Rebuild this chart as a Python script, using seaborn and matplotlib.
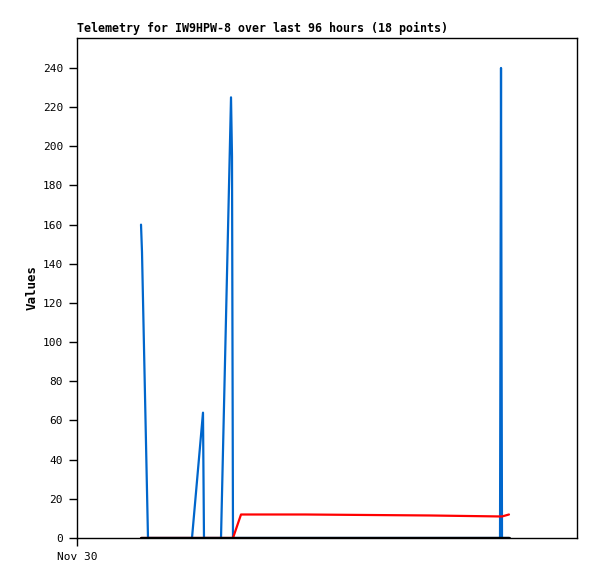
import pandas as pd
import matplotlib
matplotlib.use('Agg')
import matplotlib.pyplot as plt
import seaborn as sns

# hours since Nov 30 00:00 (18 telemetry points)
hours = [12.29, 12.48, 13.63, 22.08, 24.19, 24.38, 27.65, 29.57, 29.76,
         29.95, 31.49, 43.78, 67.78, 81.22, 81.41, 81.50, 81.60, 82.94]
ch_blue = [160, 146, 0, 0, 64, 0, 0, 225, 195, 0, 0, 0, 0, 0, 240, 121, 0, 0]
ch_red = [0, 0, 0, 0, 0, 0, 0, 0, 0, 0, 12, 12, 11.5, 11, 11, 11, 11, 12]
ch_black = [0] * 18

y_ticks = list(range(0, 241, 20))
x_tick_labels = ['Nov 30']

df = pd.DataFrame({'hours': hours, 'blue': ch_blue, 'red': ch_red, 'black': ch_black})

sns.set_style('white')
plt.rcParams['font.family'] = ['DejaVu Sans Mono']
plt.rcParams['text.color'] = 'black'
plt.rcParams['axes.labelcolor'] = 'black'

fig = plt.figure(figsize=(5.97, 5.79), dpi=100)
ax = fig.add_axes([77 / 597, 41 / 579, 500 / 597, 500 / 579])

sns.lineplot(x='hours', y='blue', data=df, color='#0066cc', linewidth=1.6,
             estimator=None, sort=False, ax=ax)
sns.lineplot(x='hours', y='red', data=df, color='#ff0000', linewidth=1.6,
             estimator=None, sort=False, ax=ax)
sns.lineplot(x='hours', y='black', data=df, color='black', linewidth=2.4,
             estimator=None, sort=False, ax=ax)

ax.set_xlim(0, 96)
ax.set_ylim(0, 255.3)
ax.set_yticks(y_ticks)
ax.set_xticks([0])
ax.set_xticklabels(x_tick_labels)
ax.tick_params(direction='out', length=6, width=1, colors='black',
               labelsize=8, left=True, bottom=True, pad=4)
for s in ax.spines.values():
    s.set_color('black')
    s.set_linewidth(1)

ax.set_xlabel('')
ax.set_ylabel('Values', fontsize=9, fontweight='bold', labelpad=3, color='black')
ax.set_title('Telemetry for IW9HPW-8 over last 96 hours (18 points)',
             loc='left', fontsize=8.4, fontweight='bold', pad=4, color='black')

fig.savefig('out.png', dpi=100)
